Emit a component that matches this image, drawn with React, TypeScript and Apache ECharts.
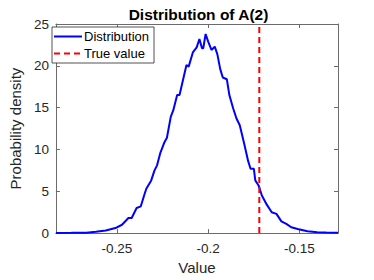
import React, { useEffect, useRef } from "react";
import * as echarts from "echarts";

const xValues = [
  -0.2834, -0.2749, -0.2668, -0.2615, -0.2561, -0.2508, -0.2472, -0.2437, -0.2419, -0.2392,
  -0.2369, -0.2351, -0.2339, -0.2312, -0.2294, -0.228, -0.2262, -0.2241, -0.2226, -0.2205,
  -0.2191, -0.217, -0.2157, -0.2137, -0.2119, -0.2107, -0.2084, -0.2063, -0.2048, -0.2034,
  -0.2027, -0.2014, -0.2, -0.1982, -0.1964, -0.195, -0.1934, -0.192, -0.1898, -0.1884,
  -0.1863, -0.1845, -0.1827, -0.1804, -0.1781, -0.1768, -0.175, -0.1742, -0.1724, -0.1706,
  -0.1679, -0.1652, -0.1626, -0.1599, -0.1572, -0.1545, -0.151, -0.1456, -0.1403, -0.1353,
  -0.1289,
];
const densityValues = [
  0.02, 0.03, 0.05, 0.15, 0.3, 0.6, 1.0, 1.8, 1.8, 3.0,
  3.2, 4.5, 5.3, 6.3, 7.5, 8.1, 9.6, 10.8, 11.4, 13.9,
  14.7, 16.5, 16.5, 18.4, 20.1, 19.9, 21.6, 22.2, 23.2, 22.1,
  22.1, 23.8, 22.9, 21.9, 22.3, 21.4, 19.6, 18.6, 18.4, 16.5,
  14.9, 13.7, 12.9, 10.8, 8.6, 7.7, 7.7, 6.3, 5.7, 4.5,
  3.4, 2.5, 2.3, 1.4, 1.1, 0.7, 0.5, 0.23, 0.1, 0.06,
  0.05,
];
const trueValue = -0.172;
const trueLineY = [0, 25];
const xTickValues = [-0.25, -0.2, -0.15];
const xMin = -0.2834;
const xMax = -0.1289;
const yMin = 0;
const yMax = 25;
const yInterval = 5;

const FONT = "'Liberation Sans', Arial, Helvetica, sans-serif";
const AXIS_COLOR = "#6b6b6b";
const TEXT_COLOR = "#262626";

export default function App() {
  const ref = useRef<HTMLDivElement>(null);
  useEffect(() => {
    if (!ref.current) return;
    const chart = echarts.init(ref.current, undefined, { renderer: "svg" });
    const lineData = xValues.map((x, i) => [x, densityValues[i]]);
    const trueData = trueLineY.map((y) => [trueValue, y]);
    const axisLine = { show: true, onZero: false, lineStyle: { color: AXIS_COLOR, width: 1 } };
    const tick = { show: true, inside: true, length: 4, lineStyle: { color: AXIS_COLOR } };
    chart.setOption({
      animation: false,
      textStyle: { fontFamily: FONT },
      title: {
        text: "Distribution of A(2)",
        left: 193.5,
        textAlign: "center",
        top: 1,
        textStyle: { fontFamily: FONT, fontSize: 15.5, fontWeight: "bold", color: "#000" },
      },
      legend: {
        orient: "vertical",
        left: 52,
        top: 27,
        padding: [3, 5, 3, 1],
        itemGap: 4,
        itemWidth: 28,
        itemHeight: 14,
        backgroundColor: "#fff",
        borderColor: "#262626",
        borderWidth: 0.8,
        itemStyle: { opacity: 0 },
        textStyle: { fontFamily: FONT, fontSize: 13, color: "#000", padding: [0, 0, 0, -3] },
        data: ["Distribution", "True value"],
      },
      grid: { left: 49, right: 36, top: 24, bottom: 43 },
      xAxis: [
        {
          type: "value",
          min: xMin,
          max: xMax,
          position: "bottom",
          name: "Value",
          nameLocation: "middle",
          nameGap: 25,
          nameTextStyle: { fontFamily: FONT, fontSize: 15, color: TEXT_COLOR },
          axisLine,
          axisTick: { ...tick, customValues: xTickValues },
          axisLabel: {
            customValues: xTickValues,
            formatter: (v: number) => String(v),
            fontFamily: FONT,
            fontSize: 13.5,
            color: TEXT_COLOR,
            margin: 8,
          },
          splitLine: { show: false },
        },
        {
          type: "value",
          min: xMin,
          max: xMax,
          position: "top",
          axisLine,
          axisTick: { ...tick, customValues: xTickValues },
          axisLabel: { show: false },
          splitLine: { show: false },
        },
      ],
      yAxis: [
        {
          type: "value",
          min: yMin,
          max: yMax,
          interval: yInterval,
          position: "left",
          name: "Probability density",
          nameLocation: "middle",
          nameGap: 27,
          nameTextStyle: { fontFamily: FONT, fontSize: 15, color: TEXT_COLOR },
          axisLine,
          axisTick: tick,
          axisLabel: { fontFamily: FONT, fontSize: 13.5, color: TEXT_COLOR, margin: 7 },
          splitLine: { show: false },
        },
        {
          type: "value",
          min: yMin,
          max: yMax,
          interval: yInterval,
          position: "right",
          axisLine,
          axisTick: tick,
          axisLabel: { show: false },
          splitLine: { show: false },
        },
      ],
      series: [
        {
          name: "Distribution",
          type: "line",
          data: lineData,
          symbol: "none",
          showSymbol: false,
          xAxisIndex: 0,
          yAxisIndex: 0,
          lineStyle: { color: "#0000ff", width: 2 },
          itemStyle: { color: "#0000ff" },
          z: 2,
        },
        {
          name: "True value",
          type: "line",
          data: trueData,
          symbol: "none",
          showSymbol: false,
          xAxisIndex: 0,
          yAxisIndex: 0,
          lineStyle: { color: "#ff0000", width: 2, type: [6, 4] },
          itemStyle: { color: "#ff0000" },
          z: 3,
        },
      ],
    });
    return () => chart.dispose();
  }, []);
  return (
    <div
      ref={ref}
      style={{ position: "absolute", left: 0, top: 0, width: 374, height: 280, background: "#fff" }}
    />
  );
}
